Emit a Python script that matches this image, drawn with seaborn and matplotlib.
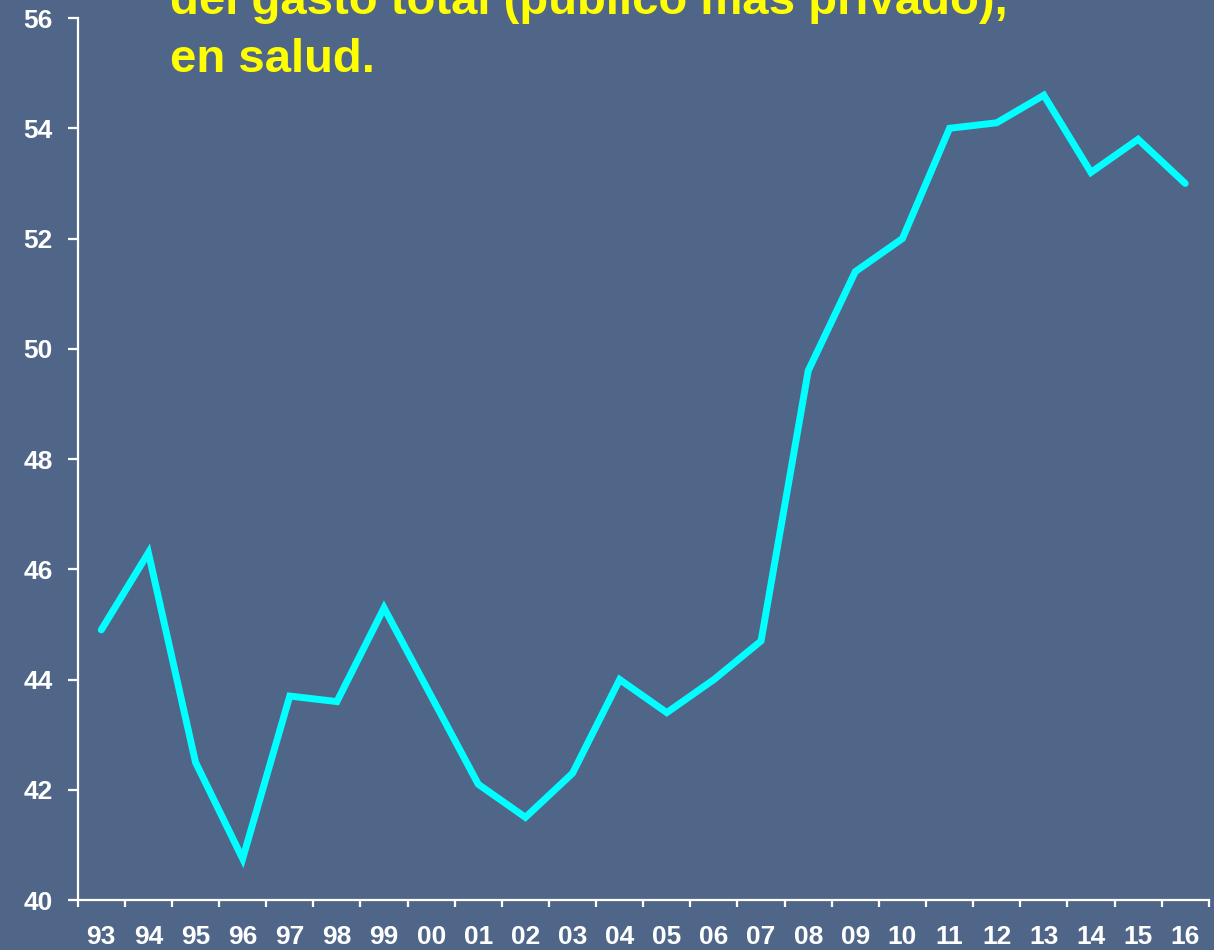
import numpy as np
import pandas as pd
import seaborn as sns
import matplotlib.pyplot as plt

# share of health spending
years = ["93", "94", "95", "96", "97", "98", "99", "00", "01", "02", "03", "04",
         "05", "06", "07", "08", "09", "10", "11", "12", "13", "14", "15", "16"]
values = [44.9, 46.3, 42.5, 40.75, 43.7, 43.6, 45.3, 43.7, 42.1, 41.5, 42.3, 44.0,
          43.4, 44.0, 44.7, 49.6, 51.4, 52.0, 54.0, 54.1, 54.6, 53.2, 53.8, 53.0]
title_lines = ["del gasto total (público más privado),", "en salud."]

bg = "#4F6689"
sns.set_style("white")
plt.rcParams["font.family"] = ["Liberation Sans", "DejaVu Sans"]
plt.rcParams["font.weight"] = "bold"

df = pd.DataFrame({"pos": np.arange(len(years)), "valor": values})

fig = plt.figure(figsize=(12.14, 9.5), dpi=100, facecolor=bg)
ax = fig.add_axes([0.064, 0.0526, 0.9317, 0.9284])
ax.set_facecolor(bg)

sns.lineplot(data=df, x="pos", y="valor", ax=ax, color="#00FFFF",
             linewidth=5, solid_joinstyle="miter")

ax.set_xlim(-0.5, len(years) - 0.5)
ax.set_ylim(40, 56)
ax.set_yticks(np.arange(40, 57, 2))
ax.set_xticks(np.arange(len(years)))
ax.set_xticklabels(years)
ax.set_xticks(np.arange(-0.5, len(years)), minor=True)
ax.set_xlabel("")
ax.set_ylabel("")

for side in ["top", "right"]:
    ax.spines[side].set_visible(False)
for side in ["left", "bottom"]:
    ax.spines[side].set_color("white")
    ax.spines[side].set_linewidth(1.6)

ax.tick_params(axis="y", which="major", direction="out", length=7, width=1.6,
               color="white", labelcolor="white", labelsize=19, pad=11, left=True)
ax.tick_params(axis="x", which="major", length=0, labelcolor="white",
               labelsize=19, pad=18)
ax.tick_params(axis="x", which="minor", direction="out", length=5, width=1.6,
               color="white", bottom=True)
for lab in ax.get_xticklabels() + ax.get_yticklabels():
    lab.set_fontweight("bold")

fig.text(0.14, 1 - 14 / 950, title_lines[0], color="#FFFF00", fontsize=34,
         fontweight="bold", va="baseline", ha="left")
fig.text(0.14, 1 - 72 / 950, title_lines[1], color="#FFFF00", fontsize=34,
         fontweight="bold", va="baseline", ha="left")

fig.savefig("out.png", dpi=100, facecolor=bg)
